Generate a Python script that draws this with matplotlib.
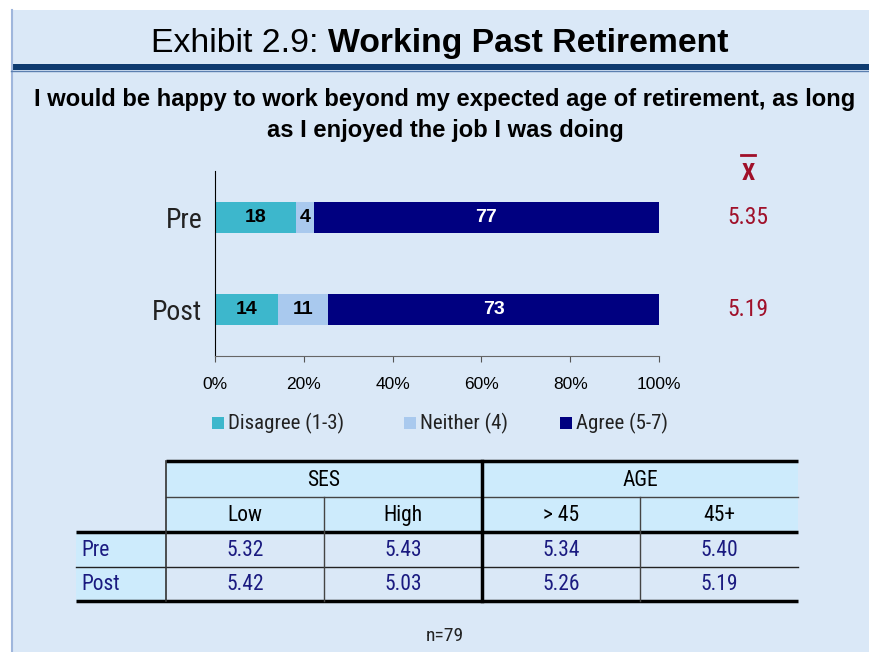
import matplotlib.pyplot as plt
import matplotlib.patches as mpatches
from matplotlib import font_manager as fm
import numpy as np

# ---- data ----
periods = ['Pre', 'Post']
disagree = [18, 14]
neither = [4, 11]
agree = [77, 73]
means = [5.35, 5.19]
series_names = ['Disagree (1-3)', 'Neither (4)', 'Agree (5-7)']
series_colors = ['#3db7cc', '#a9c9ee', '#000080']

table_groups = ['SES', 'AGE']
table_cols = ['Low', 'High', '> 45', '45+']
table_rows = ['Pre', 'Post']
table_vals = [[5.32, 5.43, 5.34, 5.40],
              [5.42, 5.03, 5.26, 5.19]]


# pick an Arial Narrow lookalike that has both regular and bold faces
def pick_narrow():
    have = {}
    for f in fm.fontManager.ttflist:
        if f.style == 'normal':
            have.setdefault(f.name, set()).add(f.weight)
    for name in ['Liberation Sans Narrow', 'Arial Narrow', 'Roboto Condensed', 'Barlow Semi Condensed',
                 'Asap Condensed', 'PT Sans Narrow', 'Archivo Narrow']:
        w = have.get(name, set())
        if 400 in w and 700 in w:
            return name
    return 'Liberation Sans'


NARROW = [pick_narrow(), 'DejaVu Sans']
ARIAL = ['Liberation Sans', 'DejaVu Sans']

W, H = 869, 652
fig = plt.figure(figsize=(W / 100, H / 100), dpi=100)
fig.patch.set_facecolor('white')

# overlay in pixel coords for the slide decoration + table
bg = fig.add_axes([0, 0, 1, 1])
bg.set_xlim(0, W)
bg.set_ylim(H, 0)
bg.axis('off')
bg.add_patch(mpatches.Rectangle((11, 10), W - 11, H - 10, facecolor='#dae8f7', edgecolor='none'))
bg.plot([11.5, 11.5], [10, H], color='#9fb6dc', lw=1.5)
bg.add_patch(mpatches.Rectangle((11, 64), W - 11, 6, facecolor='#0e3b70', edgecolor='none'))
bg.plot([11, W], [70.5, 70.5], color='#5b7fb0', lw=1)

# titles
bg.text(328, 52, 'Exhibit 2.9: ', family=ARIAL, fontsize=24.3, ha='right', va='baseline', color='black')
bg.text(328, 52, 'Working Past Retirement', family=ARIAL, fontsize=24.3, fontweight='bold',
        ha='left', va='baseline', color='black')
bg.text(445, 106, 'I would be happy to work beyond my expected age of retirement, as long',
        family=ARIAL, fontsize=17.1, fontweight='bold', ha='center', va='baseline', color='black')
bg.text(445, 137, 'as I enjoyed the job I was doing',
        family=ARIAL, fontsize=17.1, fontweight='bold', ha='center', va='baseline', color='black')

# ---- stacked 100% bar chart ----
ax = fig.add_axes([215 / W, 1 - 356 / H, 444 / W, 185 / H])
ax.patch.set_alpha(0)
totals = np.array(disagree) + np.array(neither) + np.array(agree)
ypos = np.arange(len(periods))[::-1]
left = np.zeros(len(periods))
for vals, col, name in zip([disagree, neither, agree], series_colors, series_names):
    widths = np.array(vals) / totals * 100
    ax.barh(ypos, widths, left=left, height=0.337, color=col, label=name)
    txtcol = 'white' if col == '#000080' else 'black'
    for y, l, w, v in zip(ypos, left, widths, vals):
        ax.text(l + w / 2, y, str(v), ha='center', va='center', color=txtcol,
                fontsize=14, fontweight='bold', family=ARIAL)
    left += widths

ax.set_xlim(0, 100)
ax.set_ylim(-0.51, 1.5)
ax.set_xticks(np.arange(0, 101, 20))
ax.set_xticklabels([f'{t}%' for t in range(0, 101, 20)], family=ARIAL, fontsize=12.5)
ax.set_yticks(ypos)
ax.set_yticklabels(periods, family=NARROW, fontsize=20, color='#222222')
ax.tick_params(axis='y', length=0, pad=9)
ax.tick_params(axis='x', length=4, direction='out', color='#555555', pad=11)
ax.spines['top'].set_visible(False)
ax.spines['right'].set_visible(False)
ax.spines['bottom'].set_color('#666666')
ax.spines['left'].set_color('black')

# means column
for y, m in zip(ypos, means):
    ax.text(1.2, y, f'{m:.2f}', transform=ax.get_yaxis_transform(), ha='center', va='center',
            family=NARROW, fontsize=17, color='#a0102a')
bg.text(748, 173, 'X', ha='center', va='center', fontsize=17, fontweight='bold',
        family=NARROW, color='#a0102a')
bg.plot([741, 755], [155, 155], color='#a0102a', lw=2)

# legend
lx = [212, 404, 560]
for x, name, col in zip(lx, series_names, series_colors):
    bg.add_patch(mpatches.Rectangle((x, 417), 12, 12, facecolor=col, edgecolor='none'))
    bg.text(x + 16, 423, name, family=NARROW, fontsize=15, ha='left', va='center', color='#222222')

# ---- table ----
cx = [166, 324, 482, 640, 798]
ry = [461, 497, 532, 567, 601]
hdr_fill = '#cdebfc'
bg.add_patch(mpatches.Rectangle((166, 461), 798 - 166, 532 - 461, facecolor=hdr_fill, edgecolor='none'))
bg.add_patch(mpatches.Rectangle((76, 532), 166 - 76, 601 - 532, facecolor=hdr_fill, edgecolor='none'))
bg.plot([166, 798], [461, 461], color='black', lw=2.5, solid_capstyle='butt')
bg.plot([166, 798], [497, 497], color='#444444', lw=1)
bg.plot([76, 798], [532, 532], color='black', lw=2.5, solid_capstyle='butt')
bg.plot([76, 798], [567, 567], color='#222222', lw=1)
bg.plot([76, 798], [601, 601], color='black', lw=2.5, solid_capstyle='butt')
bg.plot([166, 166], [461, 601], color='#333333', lw=1.2)
bg.plot([482, 482], [461, 601], color='black', lw=2.5)
for x in (324, 640):
    bg.plot([x, x], [497, 601], color='#444444', lw=1)

for i, g in enumerate(table_groups):
    bg.text((cx[2 * i] + cx[2 * i + 2]) / 2, (ry[0] + ry[1]) / 2 + 1, g, family=NARROW, fontsize=15.5,
            ha='center', va='center', color='black')
for j, c in enumerate(table_cols):
    bg.text((cx[j] + cx[j + 1]) / 2, (ry[1] + ry[2]) / 2 + 1, c, family=NARROW, fontsize=15.5,
            ha='center', va='center', color='black')
for i, r in enumerate(table_rows):
    yc = (ry[2 + i] + ry[3 + i]) / 2 + 1
    bg.text(81, yc, r, family=NARROW, fontsize=15.5, ha='left', va='center', color='#1a1a80')
    for j, v in enumerate(table_vals[i]):
        bg.text((cx[j] + cx[j + 1]) / 2, yc, f'{v:.2f}', family=NARROW, fontsize=15.5,
                ha='center', va='center', color='#1a1a80')

bg.text(445, 636, 'n=79', family=NARROW, fontsize=14, ha='center', va='center', color='#222222')

fig.savefig('out.png', dpi=100)
